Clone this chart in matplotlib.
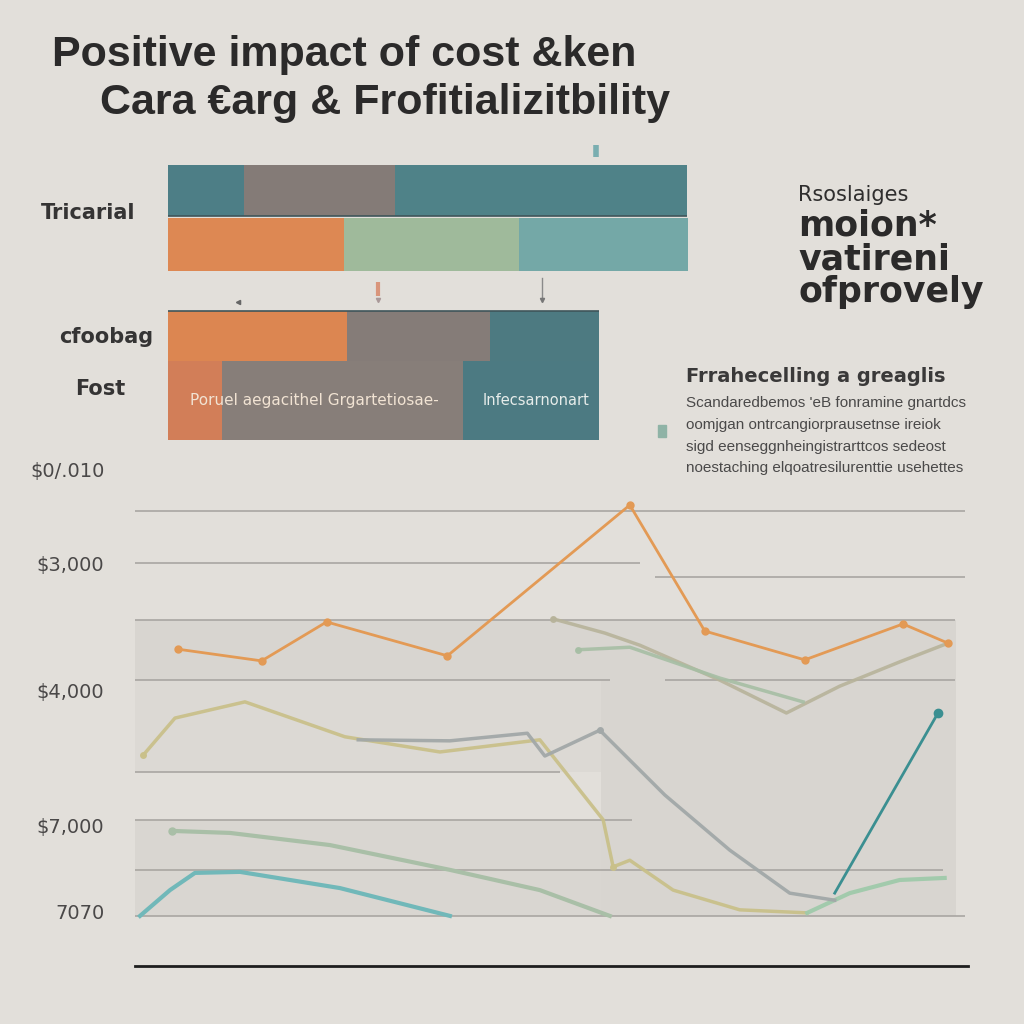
import matplotlib
matplotlib.use("Agg")
import matplotlib.pyplot as plt
from matplotlib import font_manager

names = {f.name for f in font_manager.fontManager.ttflist}
NARROW = "Liberation Sans Narrow" if "Liberation Sans Narrow" in names else "Liberation Sans"

# ---------------- data ----------------
title_line1 = "Positive impact of cost &ken"
title_line2 = "Cara €arg & Frofitializitbility"

bar_categories = ["Tricarial", "", "cfoobag", "Fost"]
bar_row1 = [14.6, 29.0, 56.3]
bar_row2 = [33.8, 33.7, 32.5]
bar_row3 = [34.4, 27.5, 21.0]
bar_row4 = [10.4, 46.3, 26.2]
bar_text_row4 = ["Poruel aegacithel Grgartetiosae-", "Infecsarnonart"]

side_heading = ["Rsoslaiges", "moion*", "vatireni", "ofprovely"]
note_heading = "Frrahecelling a greaglis"
note_lines = ["Scandaredbemos 'eB fonramine gnartdcs",
              "oomjgan ontrcangiorprausetnse ireiok",
              "sigd eenseggnheingistrarttcos sedeost",
              "noestaching elqoatresilurenttie usehettes"]

y_tick_values = [98.2, 79.6, 54.5, 27.7, 10.7]
y_tick_labels = ["$0/.010", "$3,000", "$4,000", "$7,000", "7070"]

orange_x = [5.2, 15.2, 23.0, 37.5, 59.4, 68.4, 80.4, 92.2, 97.6]
orange_y = [62.6, 60.3, 68.0, 61.3, 91.1, 66.2, 60.5, 67.6, 63.8]

greyA_x = [50.2, 56.4, 60.6, 70.2, 78.2, 84.6, 91.8, 97.6]
greyA_y = [68.6, 65.8, 63.4, 56.5, 50.0, 55.3, 60.1, 63.8]

sageA_x = [53.2, 59.4, 70.2, 80.2]
sageA_y = [62.5, 63.0, 56.9, 52.2]

olive_x = [1.0, 4.8, 13.2, 25.2, 36.6, 48.6, 56.2, 57.4, 59.4, 64.6, 72.6, 80.7]
olive_y = [41.7, 49.0, 52.2, 45.3, 42.3, 44.7, 28.9, 19.6, 20.9, 15.0, 11.1, 10.5]

mint_x = [80.7, 85.8, 91.8, 97.2]
mint_y = [10.5, 14.4, 17.0, 17.4]

grey_x = [26.8, 37.8, 47.1, 49.2, 55.8, 63.6, 71.4, 78.6, 84.0]
grey_y = [44.7, 44.5, 46.0, 41.5, 46.6, 33.8, 22.9, 14.4, 13.0]

teal_x = [0.6, 4.2, 7.2, 12.6, 24.6, 37.8]
teal_y = [9.9, 15.0, 18.4, 18.6, 15.4, 9.9]

sage_x = [4.4, 11.4, 23.4, 37.8, 48.6, 57.0]
sage_y = [26.7, 26.3, 23.9, 19.0, 15.0, 9.9]

rise_x = [84.0, 96.4]
rise_y = [14.4, 50.0]

grid_y = [89.9, 79.6, 76.9, 68.4, 56.5, 56.5, 38.3, 28.9, 19.0, 9.9]
grid_x0 = [0, 0, 62.4, 0, 0, 63.6, 0, 0, 0, 0]
grid_x1 = [99.6, 60.6, 99.6, 98.4, 57.0, 98.4, 51.0, 59.7, 97.0, 99.6]

# ---------------- figure ----------------
BG = "#e2dfda"
fig = plt.figure(figsize=(10.24, 10.24), dpi=100, facecolor=BG)

def fx(px):
    return px / 1024.0

def fy(py):
    return 1 - py / 1024.0

# titles
fig.text(fx(52), fy(55), title_line1, fontsize=31, fontweight="bold",
         family=[NARROW, "DejaVu Sans"], color="#2b2a2a", va="center", ha="left")
fig.text(fx(100), fy(103), title_line2, fontsize=31, fontweight="bold",
         family=[NARROW, "DejaVu Sans"], color="#2b2a2a", va="center", ha="left")

# ---------------- bars ----------------
axb = fig.add_axes([fx(168), fy(450), fx(688) - fx(168), fy(140) - fy(450)])
axb.set_facecolor(BG)
axb.set_xlim(0, 100)
axb.set_ylim(310, 0)
axb.axis("off")

rows = [bar_row1, bar_row2, bar_row3, bar_row4]
row_y = [50.5, 104.5, 196, 260.5]
row_h = [51, 53, 50, 79]
row_colors = [["#4d7e86", "#847b77", "#4f8288"],
              ["#dd8853", "#9fba9b", "#74a8a7"],
              ["#dc8651", "#857c78", "#4d7a81"],
              ["#d27e58", "#877e79", "#4c7a82"]]
for vals, yc, h, cols in zip(rows, row_y, row_h, row_colors):
    left = 0
    for v, c in zip(vals, cols):
        axb.barh(yc, v, left=left, height=h, color=c, edgecolor="none")
        left += v
axb.hlines([row_y[0] + row_h[0] / 2, row_y[2] - row_h[2] / 2], 0,
           [sum(bar_row1), sum(bar_row3)], color="#3f555a", lw=1.2)

axb.text(4.2, row_y[3], bar_text_row4[0], color="#f1e3d3", fontsize=11,
         va="center", ha="left")
axb.text(60.6, row_y[3], bar_text_row4[1], color="#e6ecea", fontsize=10.5,
         va="center", ha="left")

# small markers around bars
axb.plot([82.3, 82.3], [5, 17], color="#7aaeb0", lw=4, solid_capstyle="butt")
axb.plot([40.4, 40.4], [142, 156], color="#d9957b", lw=3, solid_capstyle="butt")
axb.plot([40.4], [160], marker="v", ms=3, color="#a99")
axb.plot([71.9, 71.9], [138, 158], color="#8a8a8a", lw=1)
axb.plot([71.9], [160], marker="v", ms=3, color="#777")
axb.plot([13.5], [162], marker="<", ms=3, color="#666")

fig.text(fx(135), fy(213), bar_categories[0], fontsize=15, fontweight="bold",
         color="#353434", ha="right", va="center")
fig.text(fx(153), fy(337), bar_categories[2], fontsize=15, fontweight="bold",
         color="#353434", ha="right", va="center")
fig.text(fx(125), fy(389), bar_categories[3], fontsize=15, fontweight="bold",
         color="#353434", ha="right", va="center")

# ---------------- right texts ----------------
fig.text(fx(798), fy(195), side_heading[0], fontsize=15, color="#2f2e2e",
         ha="left", va="center")
for txt, py in zip(side_heading[1:], [226, 259, 292]):
    fig.text(fx(798), fy(py), txt, fontsize=25, fontweight="bold",
             color="#2b2a2a", ha="left", va="center")

fig.text(fx(686), fy(376), note_heading, fontsize=14, fontweight="bold",
         color="#3a3939", ha="left", va="center")
for txt, py in zip(note_lines, [403, 425, 447, 468]):
    fig.text(fx(686), fy(py), txt, fontsize=11, color="#4a4949",
             ha="left", va="center", family=[NARROW, "DejaVu Sans"])
fig.patches.append(matplotlib.patches.Rectangle((fx(658), fy(437)), fx(8), fx(12),
                   transform=fig.transFigure, color="#8fb3a6", figure=fig))

# ---------------- line chart ----------------
ax = fig.add_axes([fx(135), fy(966), fx(968) - fx(135), fy(460) - fy(966)])
ax.set_facecolor(BG)
ax.set_xlim(0, 100)
ax.set_ylim(0, 100)
for s in ["top", "right", "left"]:
    ax.spines[s].set_visible(False)
ax.spines["bottom"].set_color("#1e1e1e")
ax.spines["bottom"].set_linewidth(2)
ax.set_xticks([])
ax.set_yticks(y_tick_values)
ax.set_yticklabels(y_tick_labels, fontsize=14, color="#4a4848")
ax.tick_params(axis="y", length=0, pad=22)

ax.axhspan(56.5, 68.4, xmin=0, xmax=0.985, color="#d8d5d0", zorder=0, lw=0)
ax.axhspan(38.3, 56.5, xmin=0, xmax=0.985, color="#dcd9d4", zorder=0, lw=0)
ax.axhspan(9.9, 28.9, xmin=0, xmax=0.985, color="#d9d6d1", zorder=0, lw=0)
ax.axhspan(9.9, 56.5, xmin=0.56, xmax=0.985, color="#d8d5d0", zorder=0, lw=0)
ax.hlines(grid_y, grid_x0, grid_x1, color="#a9a6a2", lw=1.2, zorder=1)

ax.plot(orange_x, orange_y, color="#e39a55", lw=2, marker="o", ms=5, zorder=5)
ax.plot(greyA_x, greyA_y, color="#b7b39a", lw=2.5, marker="o", ms=4,
        markevery=[0], zorder=4, alpha=0.9)
ax.plot(sageA_x, sageA_y, color="#a6bea4", lw=2.5, marker="o", ms=4,
        markevery=[0], zorder=4, alpha=0.9)
ax.plot(olive_x, olive_y, color="#c9c08a", lw=2.5, marker="o", ms=4,
        markevery=[0, 7], zorder=4, alpha=0.95)
ax.plot(mint_x, mint_y, color="#9fcaaa", lw=3, zorder=4, alpha=0.95)
ax.plot(grey_x, grey_y, color="#a2a8a8", lw=2.5, marker="o", ms=4,
        markevery=[4], zorder=4, alpha=0.95)
ax.plot(teal_x, teal_y, color="#71b8b9", lw=3, zorder=4)
ax.plot(sage_x, sage_y, color="#a9bfa7", lw=3, marker="o", ms=5,
        markevery=[0], zorder=4)
ax.plot(rise_x, rise_y, color="#3b8f91", lw=2, marker="o", ms=6,
        markevery=[1], zorder=6)

fig.savefig("out.png", dpi=100, facecolor=BG)
